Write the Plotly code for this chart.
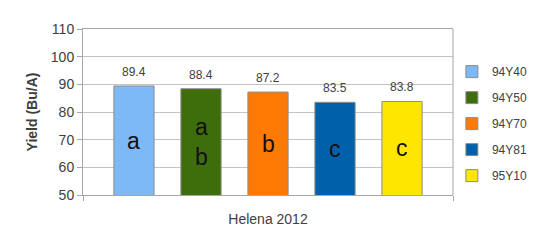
import plotly.graph_objects as go

varieties = ["94Y40", "94Y50", "94Y70", "94Y81", "95Y10"]
yields = [89.4, 88.4, 87.2, 83.5, 83.8]
letters = ["a", "a<br>b", "b", "c", "c"]
colors = ["#7DB8F7", "#3E6E0C", "#FF7A05", "#0061AA", "#FFE600"]
location = "Helena 2012"
y_min, y_max = 50, 110

fig = go.Figure()
for i, (name, v, lt, c) in enumerate(zip(varieties, yields, letters, colors)):
    fig.add_trace(go.Bar(
        x=[i], y=[v], name=name, width=0.6,
        marker=dict(color=c, line=dict(color="#8c8c8c", width=1)),
        legendgroup=name, hoverinfo="name+y",
    ))
    fig.add_annotation(x=i, y=v, text=f"{v:.1f}", showarrow=False,
                       yanchor="bottom", yshift=5,
                       font=dict(family="Liberation Sans, Arial", size=12, color="#404040"))
    fig.add_annotation(x=i, y=(y_min + v) / 2, text=lt, showarrow=False,
                       yanchor="middle", yshift=0,
                       font=dict(family="Liberation Sans, Arial", size=23, color="#111111"))

fig.update_layout(
    width=548, height=247,
    margin=dict(l=83, r=95, t=29, b=52),
    paper_bgcolor="white", plot_bgcolor="white",
    showlegend=True,
    legend=dict(x=0.997, xanchor="left", y=0.43, yanchor="middle",
                font=dict(family="Liberation Sans, Arial", size=12, color="#404040"),
                tracegroupgap=7, itemwidth=30, bgcolor="rgba(0,0,0,0)"),
    font=dict(family="Liberation Sans, Arial", color="#404040"),
)
fig.update_yaxes(range=[y_min, y_max], dtick=10, showgrid=True, gridcolor="#c4c4c4",
                 showline=True, linecolor="#a6a6a6", ticks="outside", ticklen=5,
                 tickcolor="#a6a6a6", tickfont=dict(size=14, color="#404040"),
                 title=dict(text="<b>Yield (Bu/A)</b>", font=dict(size=14, color="#404040"),
                            standoff=9),
                 zeroline=False)
fig.update_xaxes(range=[-0.761, 4.761], showgrid=False, showline=True, mirror=True,
                 linecolor="#a6a6a6", ticks="outside", ticklen=5, tickcolor="#a6a6a6",
                 tickvals=[-0.761, 4.761], showticklabels=False,
                 title=dict(text=location, font=dict(size=14, color="#404040"), standoff=14),
                 zeroline=False)
fig.add_shape(type="line", xref="paper", yref="paper", x0=1, x1=1, y0=0, y1=1,
              line=dict(color="#a6a6a6", width=1))

fig.write_html("out.html")
